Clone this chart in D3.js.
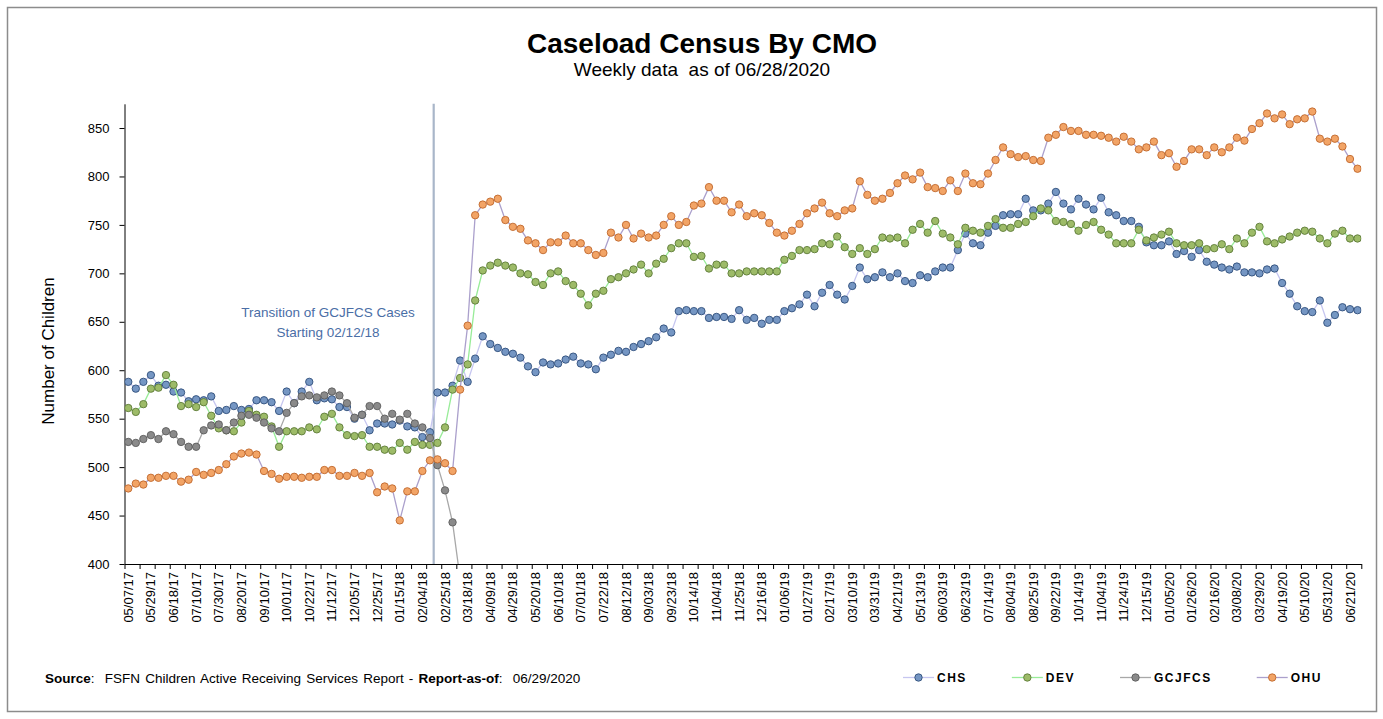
<!DOCTYPE html>
<html>
<head>
<meta charset="utf-8">
<title>Caseload Census By CMO</title>
<script src="https://cdn.jsdelivr.net/npm/d3@7"></script>
<style>
  html, body { margin: 0; padding: 0; background: #fff; }
  svg { display: block; font-family: "Liberation Sans", Arial, sans-serif; }
</style>
</head>
<body>
<div id="chart"></div>
<script>
/* ------------------------------------------------------------------ */
/*  Data (weekly counts, one value per week, 05/07/17 .. 06/28/20)     */
/* ------------------------------------------------------------------ */

// every third week is labelled on the category axis
const tickLabels = ['05/07/17','05/29/17','06/18/17','07/10/17','07/30/17','08/20/17','09/10/17',
  '10/01/17','10/22/17','11/12/17','12/05/17','12/25/17','01/15/18','02/04/18','02/25/18',
  '03/18/18','04/09/18','04/29/18','05/20/18','06/10/18','07/01/18','07/22/18','08/12/18',
  '09/03/18','09/23/18','10/14/18','11/04/18','11/25/18','12/16/18','01/06/19','01/27/19',
  '02/17/19','03/10/19','03/31/19','04/21/19','05/13/19','06/03/19','06/23/19','07/14/19',
  '08/04/19','08/25/19','09/22/19','10/14/19','11/04/19','11/24/19','12/15/19','01/05/20',
  '01/26/20','02/16/20','03/08/20','03/29/20','04/19/20','05/10/20','05/31/20','06/21/20'];
const LABEL_EVERY = 3;
const TICK_EVERY = 2;

const yTicks = [400, 450, 500, 550, 600, 650, 700, 750, 800, 850];

const chs = [588,581,588,595,584,585,578,577,568,570,
  569,573,558,559,563,559,560,569,569,567,
  558,578,566,578,588,569,571,570,562,562,
  550,554,538,545,545,544,548,542,541,531,
  536,577,577,584,610,588,612,635,627,623,
  619,617,613,604,598,608,606,607,611,614,
  607,606,601,613,616,620,619,624,627,630,
  634,643,639,661,662,661,661,654,655,655,
  653,662,652,654,648,652,652,661,664,668,
  678,666,680,688,678,673,687,706,694,696,
  701,696,700,692,690,698,696,702,706,706,
  724,741,731,729,742,749,760,761,761,777,
  765,765,772,784,772,766,777,771,766,778,
  763,760,754,754,748,732,729,729,733,720,
  723,717,724,712,709,706,704,707,701,701,
  700,704,705,690,679,666,661,660,672,649,
  657,665,663,662];

const dev = [561,557,565,581,582,595,585,563,565,562,
  567,553,540,538,537,546,558,554,552,542,
  521,537,537,537,541,539,552,555,541,533,
  532,533,521,521,518,517,525,518,526,523,
  523,525,541,580,592,606,672,703,708,711,
  708,706,700,699,691,688,700,702,692,688,
  679,667,679,682,694,696,700,704,709,700,
  710,715,726,731,731,717,718,705,709,709,
  700,700,702,702,702,702,702,714,718,724,
  724,725,731,730,738,727,720,726,720,725,
  737,736,737,731,745,751,742,754,741,737,
  730,747,744,742,749,756,747,747,751,753,
  759,767,765,754,753,751,744,750,753,745,
  740,731,731,731,745,734,737,740,743,731,
  729,729,731,725,726,730,725,736,731,742,
  748,733,731,735,738,742,744,743,736,731,
  741,744,736,736];

// GCJFCS cases were transitioned out in Feb 2018 (last value falls below the axis)
const gcjfcs = [526,525,529,533,529,537,534,526,521,521,
  538,543,544,538,546,553,554,551,546,540,
  537,556,566,573,574,572,574,578,574,566,
  551,554,563,563,550,555,549,555,545,541,
  530,502,476,443,385];

const ohu = [478,483,482,489,489,491,491,485,487,495,
  492,494,497,503,511,514,515,513,496,493,
  488,490,490,489,490,490,497,497,491,491,
  494,491,494,474,480,478,445,475,475,496,
  507,508,504,496,580,646,760,771,774,777,
  755,748,746,734,731,724,732,732,739,731,
  731,724,719,721,742,737,750,736,741,737,
  739,750,759,750,753,770,772,789,775,775,
  763,771,759,762,760,752,742,739,744,751,
  762,767,773,762,759,765,767,795,781,775,
  777,783,793,801,797,804,789,788,785,796,
  785,803,793,792,803,817,830,823,820,821,
  817,816,840,843,851,847,847,843,843,842,
  840,836,841,836,828,830,836,822,824,810,
  816,828,828,822,830,825,830,840,837,849,
  855,865,860,864,854,859,860,867,839,836,
  839,831,818,808];

// transition marker sits on the boundary between week 40 and week 41
const transitionAt = 41;
const transitionText = ['Transition of GCJFCS Cases', 'Starting 02/12/18'];

const series = [
  { name: 'CHS',    values: chs,    line: '#c6c6f0', fill: '#7596c3', stroke: '#2f4e7a' },
  { name: 'DEV',    values: dev,    line: '#98ec98', fill: '#9dbb68', stroke: '#5d7b38' },
  { name: 'GCJFCS', values: gcjfcs, line: '#a8a8a8', fill: '#8a8a8a', stroke: '#5c5c5c' },
  { name: 'OHU',    values: ohu,    line: '#aba0cc', fill: '#f2a466', stroke: '#c0682c' }
];

/* ------------------------------------------------------------------ */
/*  Layout                                                             */
/* ------------------------------------------------------------------ */

const W = 1383, H = 719;
const plot = { left: 124.5, right: 1361.3, top: 103.8, bottom: 564 };
const nWeeks = chs.length;

const svg = d3.select('#chart').append('svg')
  .attr('width', W)
  .attr('height', H);

// outer chart frame
svg.append('rect')
  .attr('x', 7.5).attr('y', 7.5)
  .attr('width', 1369).attr('height', 704)
  .attr('fill', '#fff')
  .attr('stroke', '#8c8c8c')
  .attr('stroke-width', 1.5);

// scales
const x = d3.scaleBand()
  .domain(d3.range(nWeeks))
  .range([plot.left, plot.right])
  .padding(0);
const cx = i => x(i) + x.bandwidth() / 2;

const xEdge = d3.scaleLinear()           // category boundaries, for tick marks
  .domain([0, nWeeks])
  .range([plot.left, plot.right]);

const y = d3.scaleLinear()
  .domain([400, 875])
  .range([plot.bottom, plot.top]);

/* ------------------------------------------------------------------ */
/*  Titles                                                             */
/* ------------------------------------------------------------------ */

svg.append('text')
  .attr('x', 702).attr('y', 53)
  .attr('text-anchor', 'middle')
  .attr('font-size', 28)
  .attr('font-weight', 'bold')
  .attr('fill', '#000')
  .text('Caseload Census By CMO');

svg.append('text')
  .attr('x', 702).attr('y', 76)
  .attr('text-anchor', 'middle')
  .attr('font-size', 19)
  .attr('fill', '#000')
  .attr('xml:space', 'preserve')
  .text('Weekly data  as of 06/28/2020');

svg.append('text')
  .attr('transform', 'translate(48,351) rotate(-90)')
  .attr('text-anchor', 'middle')
  .attr('dy', '0.35em')
  .attr('font-size', 17)
  .attr('fill', '#000')
  .text('Number of Children');

/* ------------------------------------------------------------------ */
/*  Axes                                                               */
/* ------------------------------------------------------------------ */

const yAxis = svg.append('g')
  .attr('transform', `translate(${plot.left},0)`)
  .call(d3.axisLeft(y).tickValues(yTicks).tickSize(5).tickPadding(10).tickSizeOuter(0));
yAxis.select('.domain').attr('stroke', '#000');
yAxis.selectAll('text').attr('font-size', 13).attr('fill', '#000')
  .attr('font-family', '"Liberation Sans", Arial, sans-serif');

// tick marks every second week
const xTicks = svg.append('g')
  .attr('transform', `translate(0,${plot.bottom})`)
  .call(d3.axisBottom(xEdge)
    .tickValues(d3.range(0, nWeeks + 1, TICK_EVERY))
    .tickSize(5).tickSizeOuter(0)
    .tickFormat(''));
xTicks.select('.domain').attr('stroke', '#000');

// labels every third week, rotated
const labelIdx = d3.range(0, nWeeks, LABEL_EVERY);
const xLabels = svg.append('g')
  .attr('transform', `translate(0,${plot.bottom})`)
  .call(d3.axisBottom(x)
    .tickValues(labelIdx)
    .tickSize(0)
    .tickFormat((d, k) => tickLabels[k]));
xLabels.select('.domain').remove();
xLabels.selectAll('text')
  .attr('transform', 'rotate(-90)')
  .attr('text-anchor', 'end')
  .attr('x', -8)
  .attr('y', 0)
  .attr('dy', '0.35em')
  .attr('font-size', 13)
  .attr('fill', '#000')
  .attr('font-family', '"Liberation Sans", Arial, sans-serif');

/* ------------------------------------------------------------------ */
/*  Transition marker                                                  */
/* ------------------------------------------------------------------ */

svg.append('line')
  .attr('x1', xEdge(transitionAt)).attr('x2', xEdge(transitionAt))
  .attr('y1', plot.top).attr('y2', plot.bottom)
  .attr('stroke', '#a9b6c9')
  .attr('stroke-width', 2.2);

svg.append('text')
  .attr('x', 328).attr('y', 317)
  .attr('text-anchor', 'middle')
  .attr('font-size', 13.5)
  .attr('fill', '#4a6ea6')
  .selectAll('tspan')
  .data(transitionText)
  .enter().append('tspan')
  .attr('x', 328)
  .attr('dy', (d, i) => i === 0 ? 0 : 20)
  .text(d => d);

/* ------------------------------------------------------------------ */
/*  Series                                                             */
/* ------------------------------------------------------------------ */

svg.append('clipPath').attr('id', 'plot-clip')
  .append('rect')
  .attr('x', plot.left).attr('y', plot.top)
  .attr('width', plot.right - plot.left)
  .attr('height', plot.bottom - plot.top);

const line = d3.line()
  .defined(v => v != null)
  .x((v, i) => cx(i))
  .y(v => y(v));

const layer = svg.append('g').attr('clip-path', 'url(#plot-clip)');

series.forEach(s => {
  const g = layer.append('g').attr('class', 'series');
  g.append('path')
    .datum(s.values)
    .attr('d', line)
    .attr('fill', 'none')
    .attr('stroke', s.line)
    .attr('stroke-width', 1.3);
  g.selectAll('circle')
    .data(s.values.map((v, i) => ({ v, i })).filter(d => d.v != null))
    .enter().append('circle')
    .attr('cx', d => cx(d.i))
    .attr('cy', d => y(d.v))
    .attr('r', 3.7)
    .attr('fill', s.fill)
    .attr('stroke', s.stroke)
    .attr('stroke-width', 0.9);
});

/* ------------------------------------------------------------------ */
/*  Footer: source note and legend                                     */
/* ------------------------------------------------------------------ */

const src = svg.append('text')
  .attr('x', 45).attr('y', 683)
  .attr('font-size', 13.5)
  .attr('word-spacing', 1.4)
  .attr('fill', '#000')
  .attr('xml:space', 'preserve');
src.append('tspan').attr('font-weight', 'bold').text('Source');
src.append('tspan').text(':  FSFN Children Active Receiving Services Report - ');
src.append('tspan').attr('font-weight', 'bold').text('Report-as-of');
src.append('tspan').text(':  06/29/2020');

const legendY = 677.5;
let lx = 903;
series.forEach(s => {
  const item = svg.append('g');
  item.append('line')
    .attr('x1', lx).attr('x2', lx + 31)
    .attr('y1', legendY).attr('y2', legendY)
    .attr('stroke', s.line).attr('stroke-width', 1.3);
  item.append('circle')
    .attr('cx', lx + 15.5).attr('cy', legendY)
    .attr('r', 3.7)
    .attr('fill', s.fill).attr('stroke', s.stroke).attr('stroke-width', 0.9);
  const t = item.append('text')
    .attr('x', lx + 34).attr('y', legendY)
    .attr('dy', '0.36em')
    .attr('font-size', 12)
    .attr('font-weight', 'bold')
    .attr('letter-spacing', 1.5)
    .attr('fill', '#000')
    .text(s.name);
  lx += 34 + t.node().getComputedTextLength() + 45;
});
</script>
</body>
</html>
